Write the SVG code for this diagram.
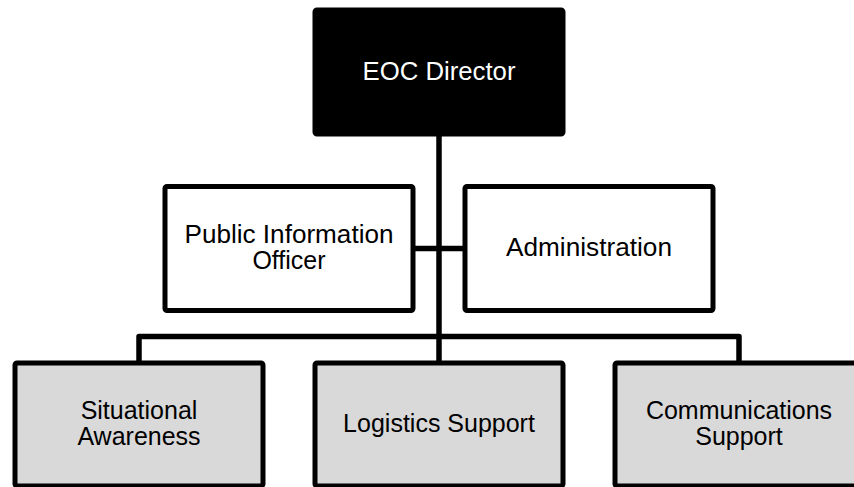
<svg xmlns="http://www.w3.org/2000/svg" width="854" height="487" viewBox="0 0 854 487">
<style>
.box{stroke:#000;stroke-width:5;stroke-linejoin:round}
.w{fill:#fff}
.g{fill:#d9d9d9}
.k{fill:#000}
.t{font-family:"Liberation Sans",Arial,Helvetica,sans-serif;font-size:25px;text-anchor:middle;fill:#000}
.tw{fill:#fff}
.c{fill:none;stroke:#000;stroke-width:5.5;stroke-linejoin:round}
</style>
<rect width="854" height="487" fill="#fff"/>
<g id="connectors">
<path class="c" d="M439 136 V363"/>
<path class="c" d="M413 248.5 H465"/>
<path class="c" d="M139 363 V336.5 H739 V363"/>
</g>
<g id="eoc-director">
<rect class="box k" x="315" y="10" width="248" height="124" rx="2"/>
<text class="t tw" x="439" y="79.5" textLength="153" lengthAdjust="spacingAndGlyphs">EOC Director</text>
</g>
<g id="public-information-officer">
<rect class="box w" x="165" y="186.5" width="248" height="124" rx="2"/>
<text class="t" x="289" y="243" textLength="209" lengthAdjust="spacingAndGlyphs">Public Information</text>
<text class="t" x="289" y="269">Officer</text>
</g>
<g id="administration">
<rect class="box w" x="465" y="186.5" width="248" height="124" rx="2"/>
<text class="t" x="589" y="256" textLength="166" lengthAdjust="spacingAndGlyphs">Administration</text>
</g>
<g id="situational-awareness">
<rect class="box g" x="15" y="363" width="248" height="123" rx="2"/>
<text class="t" x="139" y="419">Situational</text>
<text class="t" x="139" y="445">Awareness</text>
</g>
<g id="logistics-support">
<rect class="box g" x="315" y="363" width="248" height="123" rx="2"/>
<text class="t" x="439" y="432">Logistics Support</text>
</g>
<g id="communications-support">
<rect class="box g" x="615" y="363" width="248" height="123" rx="2"/>
<text class="t" x="739" y="419">Communications</text>
<text class="t" x="739" y="445">Support</text>
</g>
</svg>
